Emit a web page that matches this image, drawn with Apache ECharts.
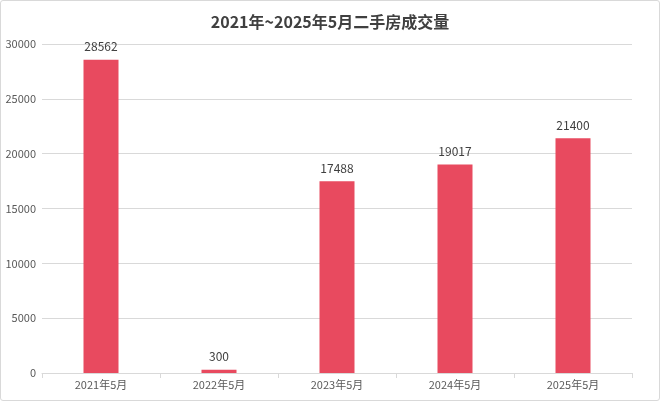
<!DOCTYPE html>
<html><head><meta charset="utf-8">
<script src="https://cdn.jsdelivr.net/npm/echarts@6/dist/echarts.min.js"></script>
<style>html,body{margin:0;padding:0;background:#fff;}#wrap{position:absolute;left:0;top:0;width:658px;height:399px;border:1px solid #d9d9d9;border-radius:3px;}#c{width:658px;height:399px;}</style>
</head><body><div id="wrap"><div id="c"></div></div>
<script>
const categories = ['2021年5月','2022年5月','2023年5月','2024年5月','2025年5月'];
const volumes = [28562, 300, 17488, 19017, 21400];
const yTicks = {min:0, max:30000, interval:5000};
const chart = echarts.init(document.getElementById('c'));
chart.setOption({
  animation:false,
  title:{text:'2021年~2025年5月二手房成交量',left:'center',top:8,textStyle:{fontFamily:'Noto Sans CJK SC',fontSize:16,fontWeight:'bold',color:'#404040'}},
  grid:{left:41,right:27,top:43,bottom:27,containLabel:false},
  xAxis:{type:'category',data:categories,axisLine:{lineStyle:{color:'#d9d9d9'}},axisTick:{show:true,length:5,lineStyle:{color:'#d9d9d9'}},axisLabel:{color:'#595959',fontSize:11,fontFamily:'Noto Sans CJK SC',margin:6}},
  yAxis:{type:'value',min:yTicks.min,max:yTicks.max,interval:yTicks.interval,axisLine:{show:false},axisTick:{show:false},splitLine:{lineStyle:{color:'#d9d9d9'}},axisLabel:{color:'#595959',fontSize:11,fontFamily:'Noto Sans CJK SC',margin:6,formatter:function(v){return String(v);}}},
  series:[{type:'bar',data:volumes,barWidth:35,itemStyle:{color:'#E84A5F'},label:{show:true,position:'top',distance:7,color:'#404040',fontSize:12,fontFamily:'Noto Sans CJK SC'}}]
});
</script></body></html>
